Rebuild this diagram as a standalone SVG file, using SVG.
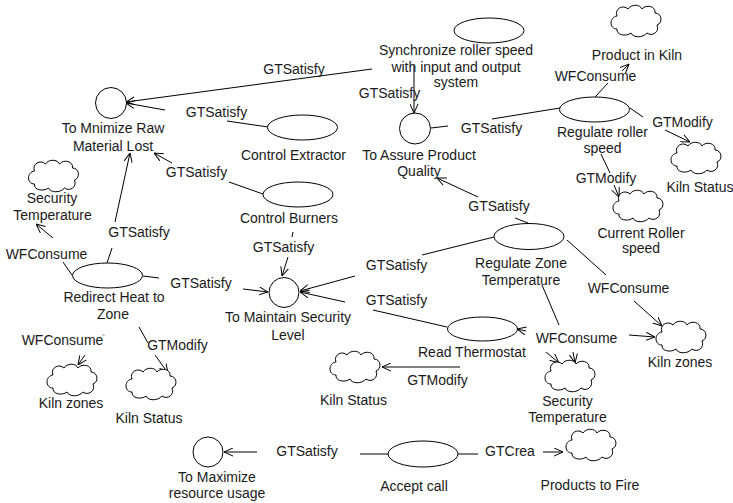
<svg xmlns="http://www.w3.org/2000/svg" width="733" height="503" viewBox="0 0 733 503">
  <style>
    .shape { fill: #fff; stroke: #000; stroke-width: 1; }
    .ln { fill: none; stroke: #000; stroke-width: 1; }
    .arr { marker-end: url(#open-arrow); }
    text { font-family: "Liberation Sans", Arial, sans-serif; font-size: 14px; fill: #1a1a1a; text-anchor: middle; }
  </style>
  <defs>
    <marker id="open-arrow" viewBox="0 0 10 10" refX="10" refY="5" markerWidth="9" markerHeight="9" markerUnits="userSpaceOnUse" orient="auto">
      <path d="M0,0.5 L10,5 L0,9.5" fill="none" stroke="#000" stroke-width="1.1"/>
    </marker>
    <!-- resource shape: cloud centred on 0,0 -->
    <path id="cloud" class="shape" d="M-19,-5 C-22,-12 -13,-17 -8,-12 C-5,-17 4,-17 6,-12 C10,-17 20,-15 19,-8 C26,-8 27,2 21,4 C24,11 16,16 11,12 C7,17 -3,17 -5,12 C-10,16 -20,14 -19,8 C-27,8 -27,-4 -19,-5 Z"/>
  </defs>

  <rect width="733" height="503" fill="#fff"/>

  <!-- connectors -->
  <g id="connectors">
    <line class="ln arr" x1="372" y1="69" x2="126" y2="102"/>
    <text x="294" y="74">GTSatisfy</text>

    <line class="ln arr" x1="414" y1="65" x2="414" y2="113"/>
    <text x="389.5" y="98">GTSatisfy</text>

    <line class="ln" x1="268" y1="127" x2="227" y2="121"/>
    <line class="ln arr" x1="165" y1="110" x2="126" y2="103"/>
    <text x="216.5" y="117">GTSatisfy</text>

    <line class="ln" x1="263" y1="194" x2="229" y2="182"/>
    <line class="ln arr" x1="172" y1="163" x2="154" y2="153"/>
    <text x="196.5" y="177">GTSatisfy</text>

    <line class="ln" x1="107" y1="263" x2="112" y2="248"/>
    <line class="ln arr" x1="115" y1="222" x2="130" y2="153"/>
    <text x="139" y="237">GTSatisfy</text>

    <line class="ln" x1="72" y1="275" x2="63" y2="262"/>
    <line class="ln arr" x1="53" y1="238" x2="36" y2="224"/>
    <text x="46.5" y="259">WFConsume</text>

    <line class="ln" x1="143" y1="276" x2="159" y2="278"/>
    <line class="ln arr" x1="243" y1="289" x2="268" y2="292"/>
    <text x="201" y="288">GTSatisfy</text>

    <line class="ln" x1="293" y1="232" x2="292" y2="237"/>
    <line class="ln arr" x1="288" y1="257" x2="282" y2="276"/>
    <text x="283.5" y="252">GTSatisfy</text>

    <line class="ln" x1="560" y1="108" x2="492" y2="119"/>
    <line class="ln" x1="448" y1="126" x2="431" y2="128"/>
    <text x="491.5" y="133">GTSatisfy</text>

    <line class="ln" x1="595" y1="97" x2="608" y2="83"/>
    <line class="ln arr" x1="622" y1="71" x2="629" y2="64"/>
    <text x="595.5" y="81">WFConsume</text>

    <line class="ln" x1="630" y1="108" x2="643" y2="117"/>
    <line class="ln arr" x1="665" y1="130" x2="690" y2="142"/>
    <text x="682.5" y="127">GTModify</text>

    <line class="ln" x1="601" y1="154" x2="610" y2="173"/>
    <line class="ln arr" x1="614" y1="185" x2="619" y2="197"/>
    <text x="606" y="183">GTModify</text>

    <line class="ln" x1="528" y1="223" x2="515" y2="218"/>
    <line class="ln arr" x1="478" y1="197" x2="437" y2="178"/>
    <text x="499" y="211">GTSatisfy</text>

    <line class="ln" x1="494" y1="237" x2="422" y2="255"/>
    <line class="ln arr" x1="355" y1="276" x2="300" y2="291"/>
    <text x="396.5" y="270">GTSatisfy</text>

    <line class="ln" x1="447" y1="327" x2="373" y2="310"/>
    <line class="ln arr" x1="345" y1="302" x2="300" y2="292"/>
    <text x="396.5" y="305">GTSatisfy</text>

    <line class="ln" x1="567" y1="240" x2="606" y2="275"/>
    <line class="ln arr" x1="634" y1="301" x2="662" y2="326"/>
    <text x="628.5" y="293">WFConsume</text>

    <line class="ln" x1="542" y1="285" x2="559" y2="325"/>
    <line class="ln arr" x1="546" y1="352" x2="559" y2="363"/>
    <line class="ln arr" x1="573" y1="352" x2="575" y2="363"/>
    <line class="ln arr" x1="629" y1="335" x2="655" y2="337"/>
    <line class="ln arr" x1="526" y1="331" x2="517" y2="329"/>
    <text x="576.5" y="343">WFConsume</text>

    <line class="ln arr" x1="460" y1="367" x2="382" y2="367"/>
    <text x="437.5" y="385">GTModify</text>

    <line class="ln" x1="388" y1="454" x2="360" y2="454"/>
    <line class="ln arr" x1="257" y1="452" x2="224" y2="452"/>
    <text x="307" y="456">GTSatisfy</text>

    <line class="ln" x1="458" y1="454" x2="478" y2="454"/>
    <line class="ln arr" x1="543" y1="452" x2="563" y2="452"/>
    <text x="510" y="456">GTCrea</text>

    <line class="ln" x1="103" y1="334.5" x2="104" y2="335.5"/>
    <line class="ln arr" x1="85" y1="355" x2="78" y2="365"/>
    <text x="62.5" y="345">WFConsume</text>

    <line class="ln" x1="139" y1="327" x2="148" y2="343"/>
    <line class="ln arr" x1="155" y1="355" x2="168" y2="373"/>
    <text x="177.5" y="350">GTModify</text>
  </g>

  <!-- goals -->
  <g id="goal-minimize-raw">
    <circle class="shape" cx="111" cy="103" r="15.5"/>
    <text x="113" y="133">To Mnimize Raw</text>
    <text x="113" y="151">Material Lost</text>
  </g>
  <g id="goal-assure-quality">
    <circle class="shape" cx="415" cy="128.5" r="15.5"/>
    <text x="419" y="160">To Assure Product</text>
    <text x="419" y="176">Quality</text>
  </g>
  <g id="goal-maintain-security">
    <circle class="shape" cx="284" cy="292.5" r="15"/>
    <text x="288" y="322">To Maintain Security</text>
    <text x="288" y="340">Level</text>
  </g>
  <g id="goal-maximize-resource">
    <circle class="shape" cx="208" cy="452" r="15"/>
    <text x="217" y="482">To Maximize</text>
    <text x="217" y="498">resource usage</text>
  </g>

  <!-- tasks -->
  <g id="task-synchronize">
    <ellipse class="shape" cx="489" cy="30.5" rx="35" ry="12.5"/>
    <text x="456" y="55">Synchronize roller speed</text>
    <text x="456" y="72">with input and output</text>
    <text x="456" y="87">system</text>
  </g>
  <g id="task-control-extractor">
    <ellipse class="shape" cx="302.5" cy="127.5" rx="35" ry="12.5"/>
    <text x="293.5" y="160">Control Extractor</text>
  </g>
  <g id="task-control-burners">
    <ellipse class="shape" cx="298" cy="194.5" rx="35" ry="12.5"/>
    <text x="289" y="223">Control Burners</text>
  </g>
  <g id="task-regulate-roller">
    <ellipse class="shape" cx="594.5" cy="109.5" rx="35" ry="12.5"/>
    <text x="602.5" y="137">Regulate roller</text>
    <text x="602.5" y="153">speed</text>
  </g>
  <g id="task-regulate-zone">
    <ellipse class="shape" cx="529" cy="236.5" rx="35" ry="13"/>
    <text x="521" y="268">Regulate Zone</text>
    <text x="521" y="285">Temperature</text>
  </g>
  <g id="task-read-thermostat">
    <ellipse class="shape" cx="482.5" cy="329" rx="35" ry="12"/>
    <text x="418" y="357" style="text-anchor:start">Read Thermostat</text>
  </g>
  <g id="task-redirect-heat">
    <ellipse class="shape" cx="107.5" cy="275.5" rx="35" ry="12.5"/>
    <text x="114" y="302">Redirect Heat to</text>
    <text x="113" y="318.5">Zone</text>
  </g>
  <g id="task-accept-call">
    <ellipse class="shape" cx="423" cy="454" rx="35" ry="13"/>
    <text x="414" y="491">Accept call</text>
  </g>

  <!-- resources -->
  <g id="res-product-in-kiln">
    <use href="#cloud" x="636" y="21"/>
    <text x="637" y="60">Product in Kiln</text>
  </g>
  <g id="res-kiln-status-a">
    <use href="#cloud" x="696" y="158"/>
    <text x="700" y="192">Kiln Status</text>
  </g>
  <g id="res-current-roller-speed">
    <use href="#cloud" x="638" y="206"/>
    <text x="641" y="238">Current Roller</text>
    <text x="641" y="253">speed</text>
  </g>
  <g id="res-security-temp-a">
    <use href="#cloud" x="53.5" y="176"/>
    <text x="52" y="203">Security</text>
    <text x="52.5" y="220">Temperature</text>
  </g>
  <g id="res-kiln-zones-a">
    <use href="#cloud" x="72" y="380"/>
    <text x="71" y="408">Kiln zones</text>
  </g>
  <g id="res-kiln-status-b">
    <use href="#cloud" x="151" y="384"/>
    <text x="149" y="423">Kiln Status</text>
  </g>
  <g id="res-kiln-status-c">
    <use href="#cloud" x="355" y="367"/>
    <text x="353.5" y="405">Kiln Status</text>
  </g>
  <g id="res-security-temp-b">
    <use href="#cloud" x="570" y="376"/>
    <text x="567.5" y="406">Security</text>
    <text x="567.5" y="422">Temperature</text>
  </g>
  <g id="res-kiln-zones-b">
    <use href="#cloud" x="681" y="337"/>
    <text x="680" y="367">Kiln zones</text>
  </g>
  <g id="res-products-to-fire">
    <use href="#cloud" x="591" y="445"/>
    <text x="590" y="490">Products to Fire</text>
  </g>
</svg>
